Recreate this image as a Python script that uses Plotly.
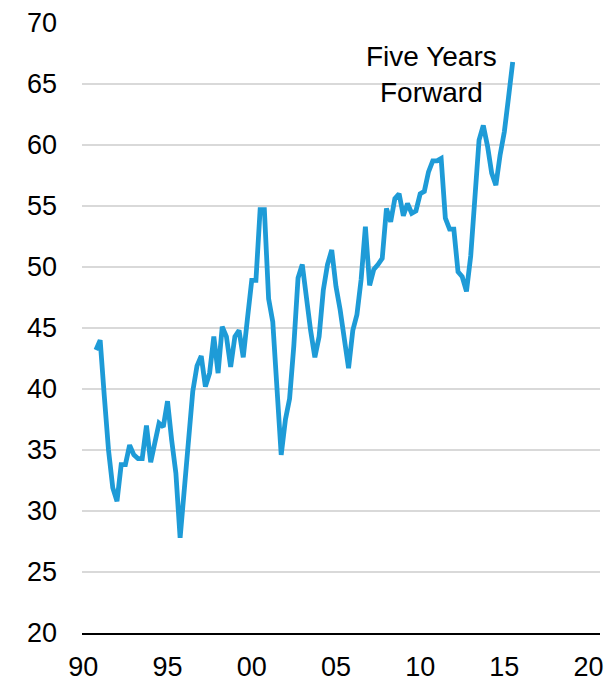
import pandas as pd
import plotly.graph_objects as go

# Quarterly readings, 1990 Q4 through 2015 Q3
start_quarter = "1990-10-01"
values = [
    43.2, 44.0, 39.4, 35.0, 31.9, 30.8, 33.8, 33.8, 35.4, 34.6,
    34.3, 34.3, 37.0, 34.0, 35.6, 37.2, 36.9, 39.0, 35.8, 33.1,
    27.8, 32.0, 36.0, 39.8, 41.9, 42.7, 40.2, 41.3, 44.3, 41.3,
    45.1, 44.3, 41.8, 44.3, 44.8, 42.6, 45.8, 48.9, 48.9, 54.7,
    54.7, 47.4, 45.5, 40.0, 34.6, 37.5, 39.2, 43.5, 49.1, 50.2,
    47.2, 44.8, 42.6, 44.3, 48.1, 50.2, 51.4, 48.4, 46.5, 44.2,
    41.7, 44.8, 46.1, 49.0, 53.3, 48.5, 49.8, 50.2, 50.7, 54.8,
    53.7, 55.6, 56.0, 54.2, 55.2, 54.4, 54.6, 56.0, 56.2, 57.8,
    58.7, 58.7, 58.9, 54.0, 53.1, 53.1, 49.6, 49.2, 48.0, 50.9,
    55.6, 60.4, 61.6, 59.9, 57.7, 56.7, 59.2, 61.1, 63.9, 66.8,
]
dates = pd.date_range(start_quarter, periods=len(values), freq="QS")

tick_years = [1990, 1995, 2000, 2005, 2010, 2015, 2020]
tick_dates = [f"{y}-01-01" for y in tick_years]
y_ticks = [20, 25, 30, 35, 40, 45, 50, 55, 60, 65, 70]

label_text = "Five Years<br>Forward"
label_x, label_y = "2010-09-01", 65.8

font_family = "Liberation Sans, Arial, sans-serif"

fig = go.Figure()
fig.add_trace(go.Scatter(
    x=dates, y=values, mode="lines",
    line=dict(color="#1e9bd7", width=4.8),
    hoverinfo="skip", showlegend=False,
))

fig.add_annotation(
    x=label_x, y=label_y, text=label_text, showarrow=False,
    xanchor="center", yanchor="middle", align="center",
    font=dict(family=font_family, size=28, color="#000000"),
)

fig.update_layout(
    width=608, height=681,
    margin=dict(l=82, r=8, t=23, b=48),
    paper_bgcolor="#ffffff", plot_bgcolor="#ffffff",
    font=dict(family=font_family, size=27, color="#000000"),
)
fig.update_xaxes(
    type="date", range=["1989-12-03", "2020-09-05"],
    tickvals=tick_dates, tickformat="%y",
    showgrid=False, zeroline=False,
    showline=True, linecolor="#000000", linewidth=2,
    ticks="", ticklabelstandoff=9, automargin=False,
)
fig.update_yaxes(
    range=[20, 70], tickvals=y_ticks,
    showgrid=True, gridcolor="#d9d9d9", gridwidth=1.5,
    zeroline=False, showline=False, ticks="",
    ticklabelstandoff=24, automargin=False,
)

fig.write_html("out.html")
